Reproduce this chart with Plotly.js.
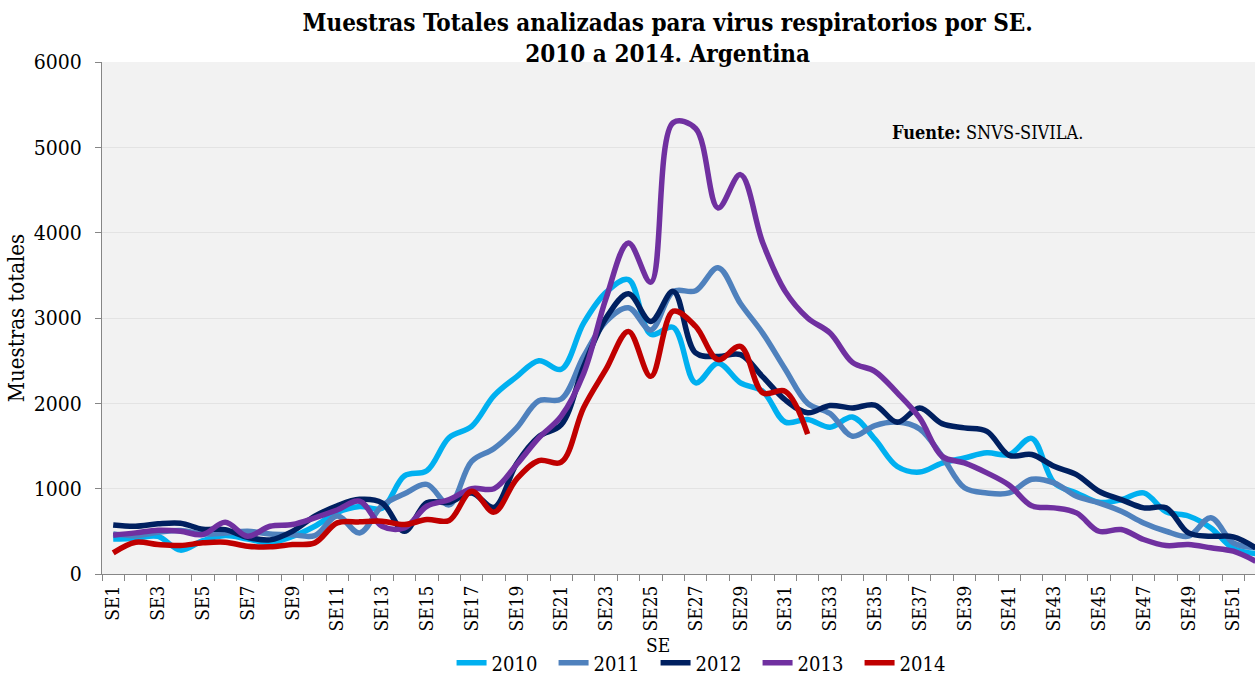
<!DOCTYPE html>
<html>
<head>
<meta charset="utf-8">
<script src="https://cdn.plot.ly/plotly-3.0.1.min.js"></script>
<style>
html,body{margin:0;padding:0;overflow:hidden;background:#fff;}
#chart{width:1255px;height:675px;}
</style>
</head>
<body>
<div id="chart"></div>
<script>
var weeks = [];
for (var i = 1; i <= 52; i++) weeks.push("SE" + i);

var tickLabels = weeks.map(function (w, i) { return i % 2 === 0 ? w : ""; });

var s2010 = [410, 420, 440, 280, 390, 450, 410, 370, 440, 560, 720, 790, 770, 1150, 1210, 1600, 1730, 2090, 2310, 2500, 2400, 2940, 3300, 3450, 2810, 2890, 2240, 2470, 2240, 2140, 1780, 1810, 1720, 1840, 1580, 1260, 1195, 1300, 1360, 1420, 1400, 1590, 1070, 950, 840, 870, 950, 730, 680, 540, 300, 240];
var s2011 = [470, 450, 490, 510, 470, 480, 500, 470, 460, 450, 680, 480, 800, 940, 1050, 810, 1320, 1470, 1710, 2030, 2050, 2550, 2960, 3120, 2860, 3310, 3320, 3590, 3170, 2820, 2400, 2000, 1880, 1614, 1740, 1780, 1700, 1380, 1010, 950, 950, 1110, 1068, 911, 834, 735, 599, 501, 443, 658, 365, 310];
var s2012 = [575, 560, 588, 595, 525, 520, 430, 400, 500, 677, 800, 875, 834, 501, 834, 840, 950, 780, 1290, 1610, 1750, 2430, 3000, 3285, 2960, 3312, 2590, 2550, 2570, 2310, 2040, 1890, 1975, 1946, 1980, 1778, 1946, 1762, 1712, 1672, 1390, 1400, 1262, 1165, 970, 872, 775, 775, 482, 443, 435, 307];
var s2013 = [455, 482, 513, 501, 462, 607, 443, 560, 580, 658, 750, 853, 560, 541, 794, 872, 1000, 1000, 1280, 1595, 1850, 2350, 3230, 3880, 3420, 5290, 5220, 4290, 4680, 3878, 3312, 3000, 2824, 2480, 2375, 2122, 1829, 1380, 1302, 1185, 1040, 800, 775, 716, 501, 521, 404, 334, 345, 307, 267, 150];
var s2014 = [248, 373, 345, 334, 365, 373, 326, 318, 345, 365, 599, 611, 619, 580, 638, 628, 970, 725, 1110, 1330, 1310, 1950, 2400, 2843, 2316, 3080, 2902, 2512, 2668, 2122, 2141, 1640];

var seriesNames = ["2010", "2011", "2012", "2013", "2014"];
var seriesValues = [s2010, s2011, s2012, s2013, s2014];
var seriesColors = ["#00B0F0", "#4F81BD", "#002060", "#7030A0", "#C00000"];

var FONT = "'DejaVu Serif Condensed', 'DejaVu Serif', serif";

var traces = seriesNames.map(function (name, k) {
  return {
    type: "scatter",
    mode: "lines",
    name: name,
    x: weeks.slice(0, seriesValues[k].length),
    y: seriesValues[k],
    line: { color: seriesColors[k], width: 5.5, shape: "spline", smoothing: 1 },
    hoverinfo: "x+y+name"
  };
});

var layout = {
  width: 1255,
  height: 675,
  margin: { l: 102, r: 0, t: 62, b: 101, pad: 0 },
  paper_bgcolor: "#ffffff",
  plot_bgcolor: "#f2f2f2",
  font: { family: FONT, color: "#000000", size: 18 },
  title: {
    text: "<b>Muestras Totales analizadas para virus respiratorios por SE.<br>2010 a 2014. Argentina</b>",
    font: { family: FONT, size: 24, color: "#000000" },
    xref: "container", x: 0.532, xanchor: "center",
    yref: "container", y: 0.954, yanchor: "middle"
  },
  xaxis: {
    type: "category",
    range: [-0.5, 50.97],
    tickson: "boundaries",
    tickmode: "array",
    tickvals: weeks,
    ticktext: tickLabels,
    tickangle: -90,
    ticks: "outside",
    ticklen: 6,
    tickcolor: "#868686",
    showline: true,
    linecolor: "#868686",
    linewidth: 1,
    showgrid: false,
    zeroline: false,
    tickfont: { family: FONT, size: 19, color: "#000000" },
    ticklabelstandoff: 3,
    fixedrange: true
  },
  yaxis: {
    title: {
      text: "Muestras totales",
      font: { family: FONT, size: 22, color: "#000000" },
      standoff: 3
    },
    range: [0, 6000],
    dtick: 1000,
    tick0: 0,
    ticks: "outside",
    ticklen: 6,
    tickcolor: "#868686",
    showline: true,
    linecolor: "#868686",
    linewidth: 1,
    gridcolor: "#e3e3e3",
    gridwidth: 1,
    zeroline: false,
    tickfont: { family: FONT, size: 21, color: "#000000" },
    ticklabelstandoff: 9,
    automargin: false,
    fixedrange: true
  },
  showlegend: true,
  legend: {
    orientation: "h",
    xref: "container", x: 0.563, xanchor: "center",
    yref: "container", y: 0.018, yanchor: "middle",
    font: { family: FONT, size: 20, color: "#000000" },
    entrywidth: 57,
    entrywidthmode: "pixels",
    bgcolor: "rgba(0,0,0,0)",
    itemclick: false, itemdoubleclick: false
  },
  annotations: [
    {
      text: "SE",
      xref: "paper", yref: "paper",
      x: (658 - 102) / 1153, y: -(645 - 574.5) / 512,
      xanchor: "center", yanchor: "middle",
      showarrow: false,
      font: { family: FONT, size: 19, color: "#000000" }
    },
    {
      text: "<b>Fuente:</b> SNVS-SIVILA.",
      xref: "paper", yref: "paper",
      x: (890 - 102) / 1153, y: (574.5 - 133) / 512,
      xanchor: "left", yanchor: "middle",
      showarrow: false,
      font: { family: FONT, size: 18, color: "#000000" }
    }
  ]
};

Plotly.newPlot("chart", traces, layout, { displayModeBar: false, responsive: false });
</script>
</body>
</html>
